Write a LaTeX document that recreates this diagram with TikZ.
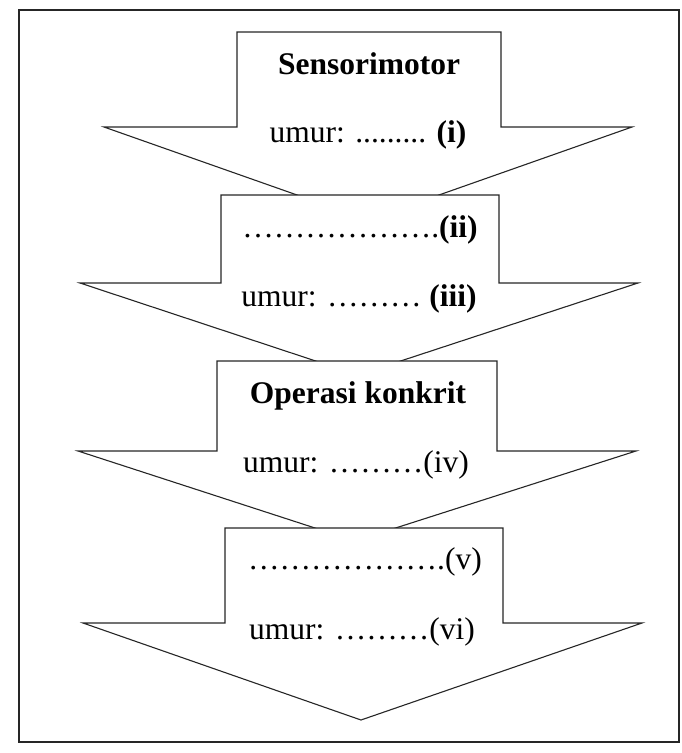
\documentclass[tikz,border=0pt]{standalone}
\usepackage{fontspec}
\setmainfont{Liberation Serif}
\begin{document}
\begin{tikzpicture}[x=1pt,y=-1pt,
  frame/.style={draw=black!85, line width=1.2pt},
  arrowshape/.style={draw=black!85, fill=white, line width=1.1pt},
  lbl/.style={anchor=base, inner sep=0pt, font=\fontsize{31.5}{36}\selectfont},
  ttl/.style={lbl, font=\fontsize{31.5}{36}\selectfont\bfseries}]
\useasboundingbox (0,0) rectangle (681,753);
% outer frame
\draw[frame] (19,10) rectangle (679,742);
% arrow 1
\draw[arrowshape] (237,32) -- (501,32) -- (501,127) -- (632,127) -- (368,220)
  -- (104,127) -- (237,127) -- cycle;
% arrow 2
\draw[arrowshape] (221,195) -- (499,195) -- (499,283) -- (638,283) -- (358,375)
  -- (80,283) -- (221,283) -- cycle;
% arrow 3
\draw[arrowshape] (217,361) -- (497,361) -- (497,451) -- (636,451) -- (355,541)
  -- (78,451) -- (217,451) -- cycle;
% arrow 4
\draw[arrowshape] (225,528) -- (503,528) -- (503,623) -- (642,623) -- (361,720)
  -- (83,623) -- (225,623) -- cycle;
% texts
\node[ttl] (t1) at (369,74) {Sensorimotor};
\node[lbl] (u1) at (368,142) {umur: ......... \textbf{(i)}};
\node[lbl] (t2) at (360,237) {……………….\textbf{(ii)}};
\node[lbl] (u2) at (359,306) {umur: ……… \textbf{(iii)}};
\node[ttl] (t3) at (358,403) {Operasi konkrit};
\node[lbl] (u3) at (356,472) {umur: ………(iv)};
\node[lbl] (t4) at (365,569) {……………….(v)};
\node[lbl] (u4) at (362,639) {umur: ………(vi)};
\end{tikzpicture}
\end{document}
